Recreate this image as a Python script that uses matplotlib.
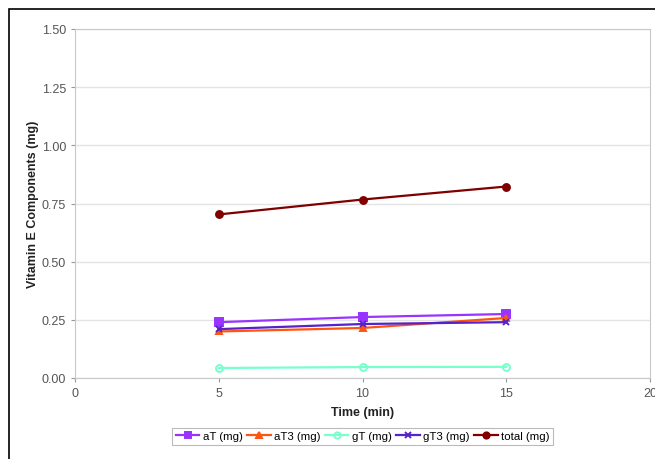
import numpy as np
import matplotlib.pyplot as plt
from matplotlib.patches import Rectangle

plt.rcParams['font.family'] = ['Liberation Sans', 'DejaVu Sans']

time_min = [5, 10, 15]
aT = [0.240, 0.262, 0.275]
aT3 = [0.200, 0.215, 0.258]
gT = [0.043, 0.047, 0.048]
gT3 = [0.210, 0.232, 0.240]
total = [0.703, 0.767, 0.823]

series = [
    ('aT (mg)', aT, '#9933ff', 's', 5.5),
    ('aT3 (mg)', aT3, '#ff5511', '^', 5),
    ('gT (mg)', gT, '#77ffcc', 'o', 5),
    ('gT3 (mg)', gT3, '#5522cc', 'x', 5),
    ('total (mg)', total, '#800000', 'o', 5),
]

fig = plt.figure(figsize=(6.55, 4.6), dpi=100)
# outer chart border (only left/top visible)
fig.patches.append(Rectangle((9 / 655, -0.1), 1.2, (450 / 460) + 0.1, transform=fig.transFigure,
                             fill=False, edgecolor='black', linewidth=1.2))

ax = fig.add_axes([75 / 655, 81 / 460, 575 / 655, 349 / 460])
for name, vals, col, mk, ms in series:
    mfc = 'none' if name == 'gT (mg)' else col
    ax.plot(time_min, vals, color=col, marker=mk, markersize=ms, linewidth=1.6,
            markerfacecolor=mfc, markeredgecolor=col, markeredgewidth=1.4, label=name)

ax.set_xlim(0, 20)
ax.set_ylim(0, 1.5)
ax.set_xticks([0, 5, 10, 15, 20])
ax.set_yticks(np.arange(0, 1.51, 0.25))
ax.set_yticklabels(['%.2f' % v for v in np.arange(0, 1.51, 0.25)])
ax.grid(axis='y', color='#e4e4e4', linewidth=1)
ax.set_axisbelow(True)
for s in ax.spines.values():
    s.set_color('#c8c8c8')
ax.tick_params(colors='#999999', labelcolor='#555555', labelsize=9, length=3)
ax.set_xlabel('Time (min)', fontsize=9, fontweight='bold', color='#222222', labelpad=5)
ax.set_ylabel('Vitamin E Components (mg)', fontsize=9, fontweight='bold', color='#222222', labelpad=2)

leg = ax.legend(loc='upper center', bbox_to_anchor=(0.5, -0.127), ncol=5, fontsize=8.2,
                frameon=True, fancybox=False, handlelength=2.1, handletextpad=0.3,
                columnspacing=0.35, borderpad=0.3, markerscale=0.9)
leg.get_frame().set_edgecolor('#aaaaaa')
leg.get_frame().set_linewidth(0.8)

fig.savefig('out.png', dpi=100)
